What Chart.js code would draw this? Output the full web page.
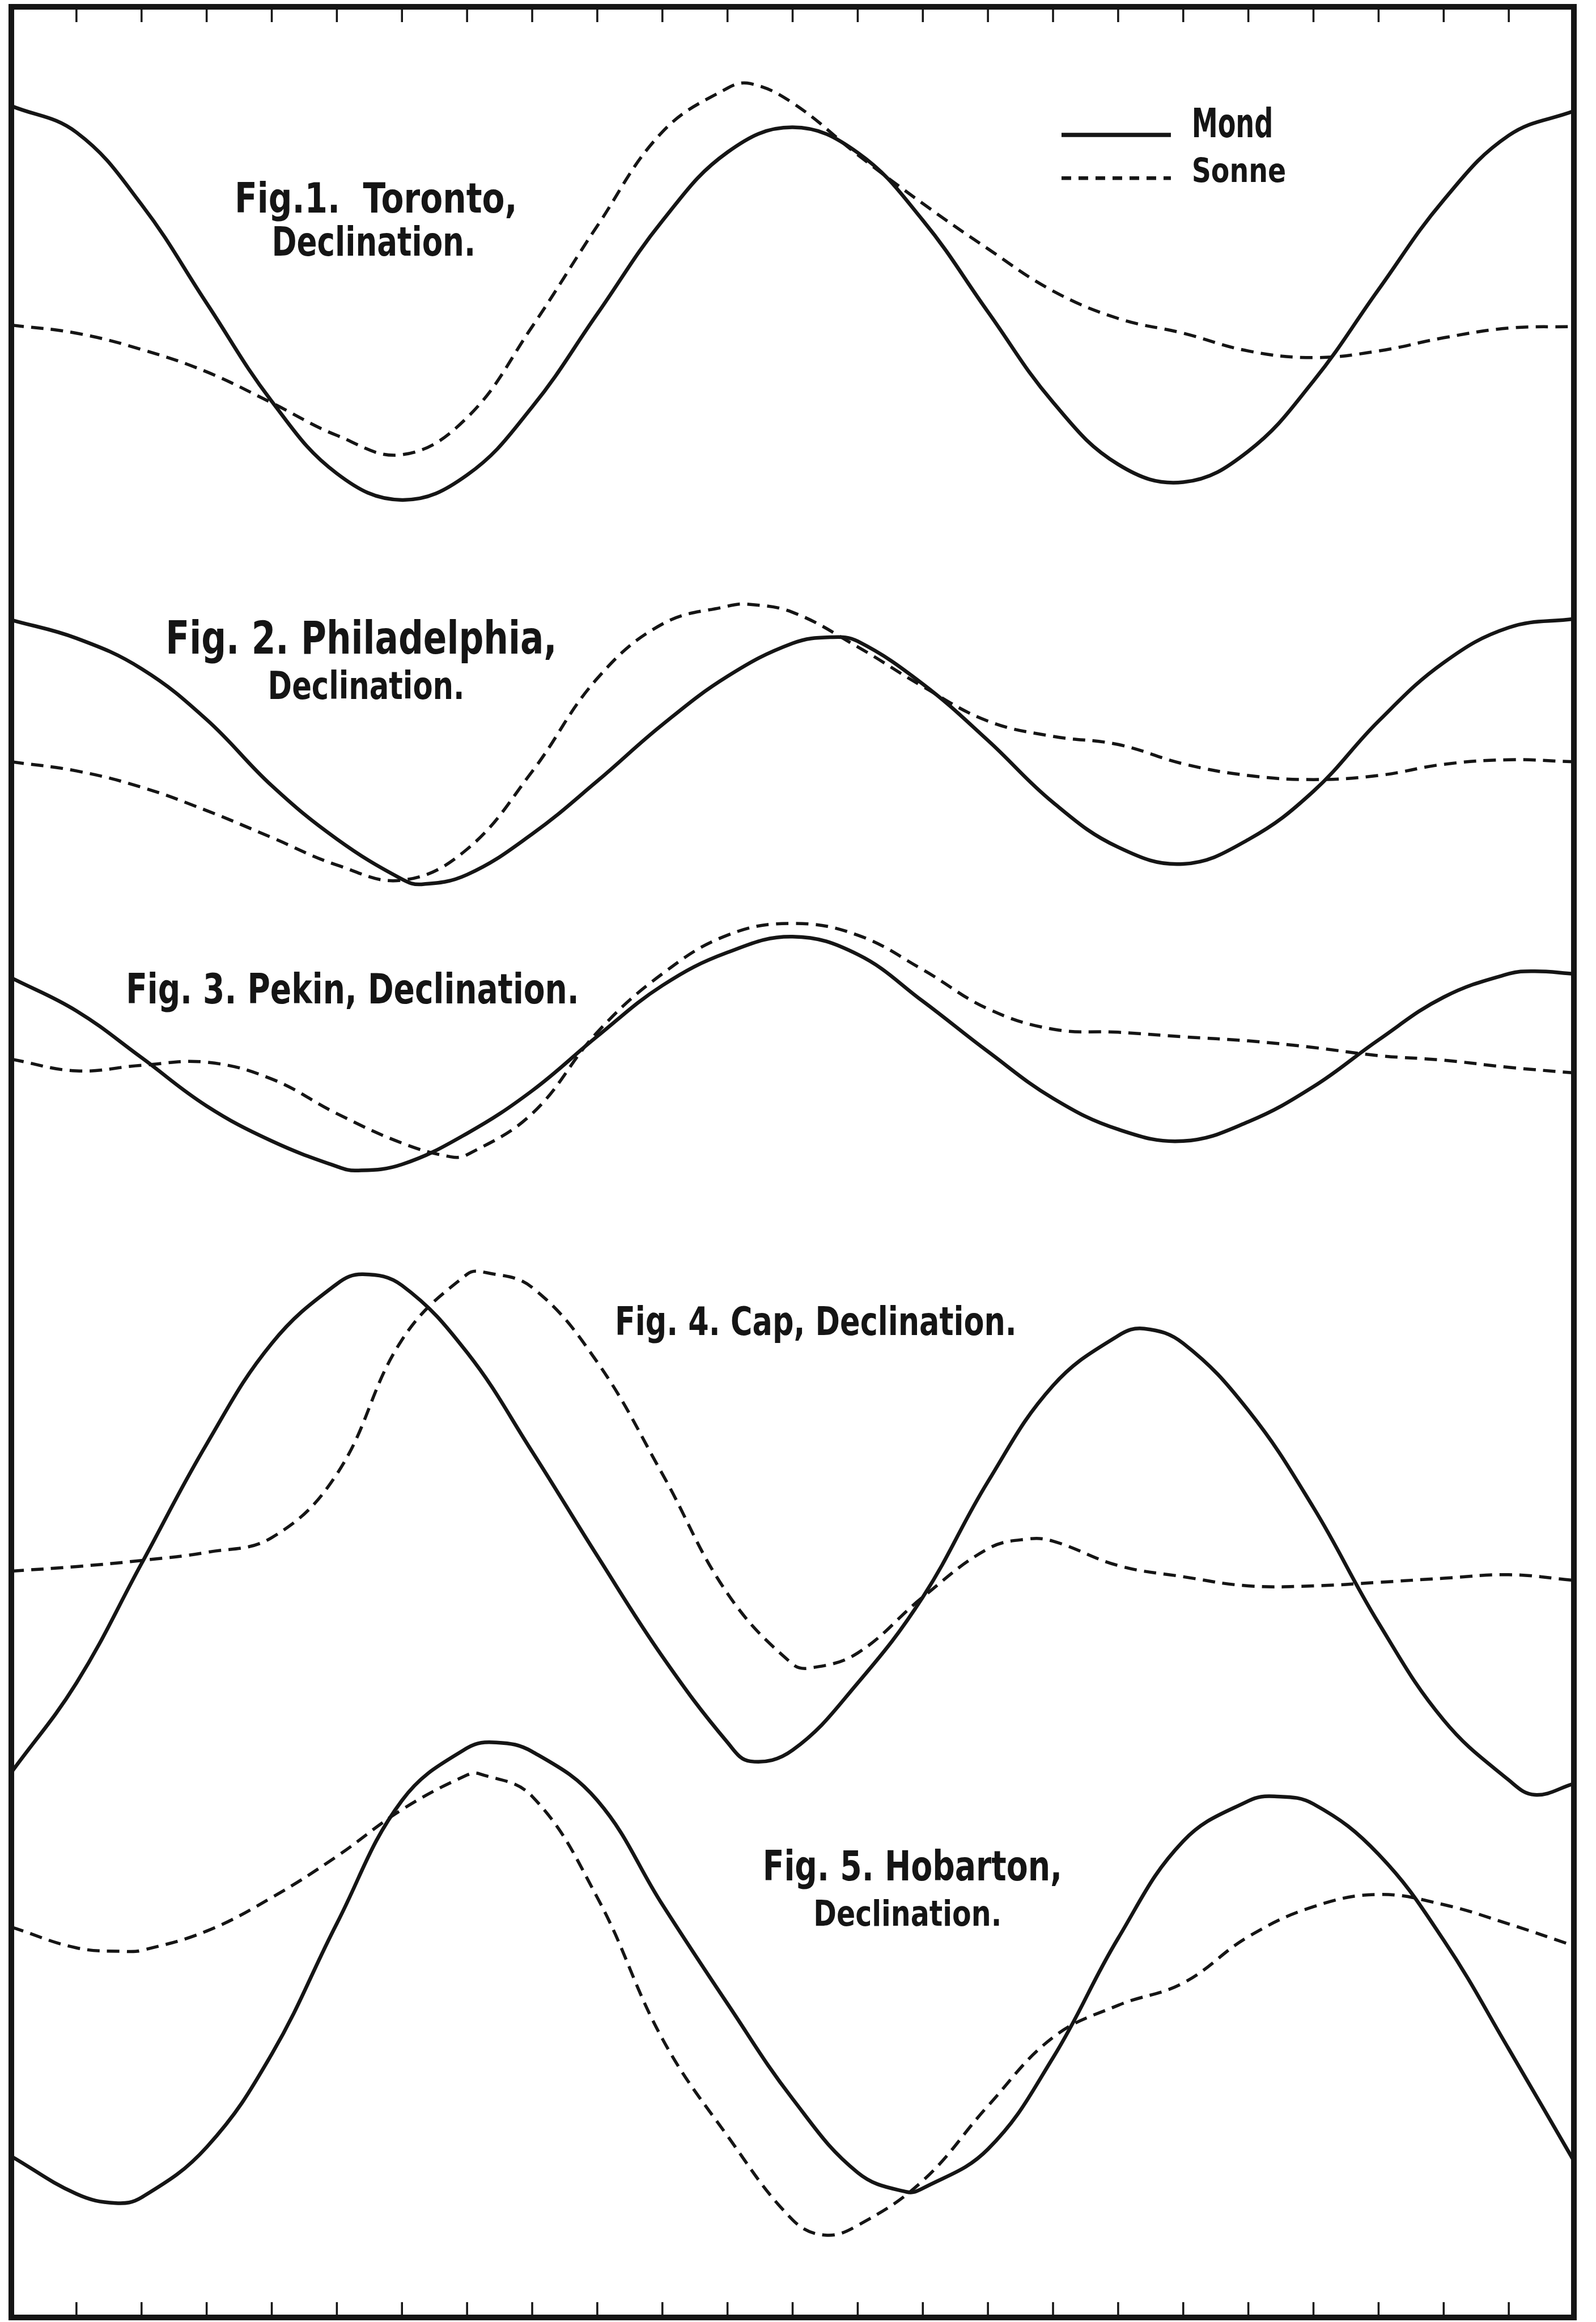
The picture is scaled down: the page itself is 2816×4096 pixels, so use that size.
<!DOCTYPE html>
<html>
<head>
<meta charset="utf-8">
<script src="https://cdn.jsdelivr.net/npm/chart.js@4/dist/chart.umd.min.js"></script>
<style>
  html, body { margin: 0; background: #fff; }
  canvas { display: block; }
</style>
</head>
<body>
<canvas id="plate" width="2816" height="4096"></canvas>
<script>
// x: lunar hour 0..24, y: height on the plate (measured downward from the top edge)
const TICK_HOURS = [1,2,3,4,5,6,7,8,9,10,11,12,13,14,15,16,17,18,19,20,21,22,23];
const SERIES = ["Mond", "Sonne"];

// Fig. 1 Toronto
const torontoMond = [[0,208],[1,260],[2,402],[3,596],[4,789],[5,931],[6,983],[7,934],[8,800],[9,617],[10,434],[11,299],[12,250],[13,300],[14,433],[15,613],[16,791],[17,913],[18,948],[19,887],[20,749],[21,569],[22,393],[23,266],[24,218]];
const torontoSonne = [[0,639],[1,655],[2,687],[3,731],[4,792],[5,856],[6,894],[7,821],[8,642],[9,444],[10,259],[11,173],[11.35,164],[12,202],[13,304],[14,400],[15,489],[16,572],[17,626],[18,655],[19,690],[20,703],[21,690],[22,664],[23,645],[24,642]];

// Fig. 2 Philadelphia
const philaMond = [[0,1219],[1,1255],[2,1315],[3,1415],[4,1545],[5,1650],[6,1729],[6.3,1739],[7,1720],[8,1640],[9,1536],[10,1425],[11,1330],[12,1265],[12.6,1253],[13,1261],[14,1345],[15,1456],[16,1578],[17,1666],[18,1699],[19,1651],[20,1556],[21,1418],[22,1303],[23,1234],[24,1217]];
const philaSonne = [[0,1498],[1,1516],[2,1548],[3,1594],[4,1647],[5,1701],[6,1731],[7,1670],[8,1517],[9,1334],[10,1227],[11,1192],[11.3,1188],[12,1204],[13,1272],[14,1350],[15,1418],[16,1448],[17,1464],[18,1502],[19,1525],[20,1533],[21,1525],[22,1503],[23,1494],[24,1498]];

// Fig. 3 Pekin
const pekinMond = [[0,1923],[1,1988],[2,2080],[3,2175],[4,2244],[5,2294],[5.3,2302],[6,2290],[7,2229],[8,2145],[9,2038],[10,1938],[11,1873],[12,1842],[13,1877],[14,1969],[15,2068],[16,2160],[17,2221],[18,2244],[19,2206],[20,2137],[21,2045],[22,1961],[23,1915],[23.4,1910],[24,1915]];
const pekinSonne = [[0,2083],[1,2106],[2,2095],[3,2089],[4,2122],[5,2190],[6,2248],[6.75,2275],[7,2271],[8,2190],[9,2030],[10,1915],[11,1839],[12,1816],[13,1839],[14,1907],[15,1984],[16,2024],[17,2030],[18,2039],[19,2047],[20,2060],[21,2076],[22,2085],[23,2099],[24,2110]];

// Fig. 4 Cap
const capMond = [[0,3486],[1,3310],[2,3075],[3,2840],[4,2642],[5,2525],[5.4,2506],[6,2528],[7,2660],[8,2855],[9,3060],[10,3258],[11,3427],[11.35,3464],[12,3442],[13,3310],[14,3141],[15,2914],[16,2725],[17,2627],[17.4,2613],[18,2642],[19,2774],[20,2965],[21,3192],[22,3383],[23,3501],[23.4,3530],[24,3508]];
const capSonne = [[0,3090],[1,3081],[2,3069],[3,3053],[4,3024],[5,2899],[6,2635],[7,2506],[7.3,2503],[8,2532],[9,2679],[10,2899],[11,3134],[12,3273],[12.3,3280],[13,3251],[14,3141],[15,3046],[15.6,3027],[16,3031],[17,3079],[18,3101],[19,3119],[20,3119],[21,3112],[22,3104],[23,3097],[24,3108]];

// Fig. 5 Hobarton
const hobartMond = [[0,4241],[1,4315],[1.6,4333],[2,4322],[3,4223],[4,4040],[5,3783],[6,3541],[7,3438],[7.45,3427],[8,3445],[9,3541],[10,3746],[11,3941],[12,4128],[13,4273],[13.75,4311],[14,4304],[15,4227],[16,4047],[17,3812],[18,3621],[19,3542],[19.4,3533],[20,3548],[21,3647],[22,3816],[23,4030],[24,4250]];
const hobartSonne = [[0,3790],[1,3831],[1.75,3838],[2,3836],[3,3798],[4,3732],[5,3651],[6,3559],[7,3491],[7.2,3489],[8,3533],[9,3732],[10,4010],[11,4201],[12,4366],[12.5,4396],[13,4377],[14,4289],[15,4142],[16,4007],[17,3944],[18,3900],[19,3809],[20,3750],[21,3726],[22,3746],[23,3784],[24,3827]];

const TITLE_TEXT = [
  "Fig.1.  Toronto,", "Declination.",
  "Fig. 2. Philadelphia,", "Declination.",
  "Fig. 3. Pekin, Declination.",
  "Fig. 4. Cap, Declination.",
  "Fig. 5. Hobarton,", "Declination."
];

// where the captions sit: [hour from, hour to, cap top, baseline]
const TITLE_BOX = [
  [3.43, 7.77, 358, 418], [4.00, 7.13, 445, 503],
  [2.37, 8.38, 1220, 1285], [3.94, 6.96, 1320, 1375],
  [1.76, 8.72, 1913, 1973],
  [9.27, 15.44, 2569, 2626],
  [11.54, 16.14, 3638, 3698], [12.32, 15.21, 3737, 3787]
];
const LEGEND_BOX = [
  { line: [16.13, 17.81, 265], text: [18.13, 19.38, 212, 270] },
  { line: [16.13, 17.81, 350], text: [18.13, 19.58, 310, 358] }
];

const INK = "#151515";
const FONT = '"DejaVu Sans", "Liberation Sans", sans-serif';

function curve(data, dashed) {
  return {
    label: dashed ? SERIES[1] : SERIES[0],
    data: data,
    borderColor: INK,
    borderWidth: dashed ? 5.5 : 6.5,
    borderDash: dashed ? [22, 13] : [],
    pointRadius: 0,
    fill: false,
    tension: 0.4
  };
}

// squeeze text into a box, like the narrow lettering of the plate
function boxText(ctx, text, x0, x1, top, base) {
  const size = (base - top) / 0.73;
  ctx.font = `bold ${size}px ${FONT}`;
  const w = ctx.measureText(text).width;
  ctx.save();
  ctx.translate(x0, base);
  ctx.scale((x1 - x0) / w, 1);
  ctx.fillText(text, 0, 0);
  ctx.restore();
}

const platePlugin = {
  id: "plate",
  afterDatasetsDraw(chart) {
    const { ctx, chartArea: a, scales: { x, y } } = chart;
    ctx.save();
    ctx.strokeStyle = INK;
    ctx.fillStyle = INK;

    // hour ticks, pointing inward at top and bottom
    ctx.lineWidth = 3.5;
    TICK_HOURS.forEach(h => {
      const px = x.getPixelForValue(h);
      ctx.beginPath();
      ctx.moveTo(px, a.top); ctx.lineTo(px, a.top + 27);
      ctx.moveTo(px, a.bottom); ctx.lineTo(px, a.bottom - 27);
      ctx.stroke();
    });

    ctx.lineWidth = 10;
    ctx.strokeRect(a.left, a.top, a.right - a.left, a.bottom - a.top);

    // captions
    ctx.textBaseline = "alphabetic";
    TITLE_TEXT.forEach((t, i) => {
      const [h0, h1, top, base] = TITLE_BOX[i];
      boxText(ctx, t, x.getPixelForValue(h0), x.getPixelForValue(h1),
        y.getPixelForValue(top), y.getPixelForValue(base));
    });

    // key
    LEGEND_BOX.forEach((k, i) => {
      const ds = chart.data.datasets[i];
      ctx.lineWidth = ds.borderWidth + 1;
      ctx.setLineDash(ds.borderDash.length ? [17, 13] : []);
      ctx.beginPath();
      ctx.moveTo(x.getPixelForValue(k.line[0]), y.getPixelForValue(k.line[2]));
      ctx.lineTo(x.getPixelForValue(k.line[1]), y.getPixelForValue(k.line[2]));
      ctx.stroke();
      ctx.setLineDash([]);
      boxText(ctx, ds.label, x.getPixelForValue(k.text[0]), x.getPixelForValue(k.text[1]),
        y.getPixelForValue(k.text[2]), y.getPixelForValue(k.text[3]));
    });
    ctx.restore();
  }
};

new Chart(document.getElementById("plate"), {
  type: "line",
  data: {
    datasets: [
      curve(torontoMond, false), curve(torontoSonne, true),
      curve(philaMond, false), curve(philaSonne, true),
      curve(pekinMond, false), curve(pekinSonne, true),
      curve(capMond, false), curve(capSonne, true),
      curve(hobartMond, false), curve(hobartSonne, true)
    ]
  },
  options: {
    responsive: false,
    animation: false,
    devicePixelRatio: 1,
    events: [],
    layout: { padding: { left: 20, right: 39, top: 12, bottom: 8 } },
    plugins: { legend: { display: false }, tooltip: { enabled: false } },
    scales: {
      x: { type: "linear", min: 0, max: 24, display: false },
      y: { type: "linear", min: 13, max: 4558, reverse: true, display: false }
    }
  },
  plugins: [platePlugin]
});
</script>
</body>
</html>
